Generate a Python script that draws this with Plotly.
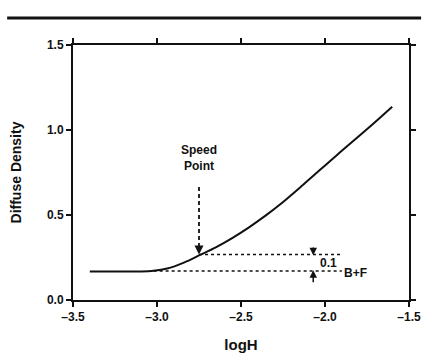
import plotly.graph_objects as go

# Characteristic curve
log_h = [-3.40, -3.25, -3.10, -3.02, -2.94, -2.84, -2.744, -2.65, -2.55, -2.45, -2.35, -2.27, -2.13, -1.93, -1.73, -1.60]
density = [0.168, 0.168, 0.168, 0.172, 0.185, 0.220, 0.265, 0.310, 0.366, 0.429, 0.499, 0.560, 0.678, 0.852, 1.022, 1.137]

base_fog = 0.17          # B+F level
speed_x = -2.75          # speed point log H
speed_y = 0.268          # B+F + 0.1
dash_top = 0.665
dotted_end = -1.90
dotted_start_low = -3.02
arrow_x = -2.07

x_ticks = [-3.5, -3.0, -2.5, -2.0, -1.5]
y_ticks = [0.0, 0.5, 1.0, 1.5]

FONT = "Liberation Sans"
BLACK = "#111111"

fig = go.Figure()

fig.add_trace(go.Scatter(x=log_h, y=density, mode="lines",
                         line=dict(color=BLACK, width=2, shape="spline", smoothing=1.0),
                         hoverinfo="skip", showlegend=False))

# dotted reference lines
fig.add_trace(go.Scatter(x=[speed_x, dotted_end], y=[speed_y, speed_y], mode="lines",
                         line=dict(color=BLACK, width=1.5, dash="dot"), showlegend=False))
fig.add_trace(go.Scatter(x=[dotted_start_low, dotted_end], y=[base_fog, base_fog], mode="lines",
                         line=dict(color=BLACK, width=1.5, dash="dot"), showlegend=False))
# dashed vertical pointer
fig.add_trace(go.Scatter(x=[speed_x, speed_x], y=[dash_top, speed_y + 0.04], mode="lines",
                         line=dict(color=BLACK, width=1.8, dash="4px,3px"), showlegend=False))

# arrowheads
fig.add_annotation(x=speed_x, y=speed_y, ax=speed_x, ay=speed_y + 0.05,
                   xref="x", yref="y", axref="x", ayref="y", text="", showarrow=True,
                   arrowhead=2, arrowsize=1.2, arrowwidth=1.5, arrowcolor=BLACK)
fig.add_annotation(x=arrow_x, y=speed_y - 0.005, ax=arrow_x, ay=0.318,
                   xref="x", yref="y", axref="x", ayref="y", text="", showarrow=True,
                   arrowhead=2, arrowsize=1, arrowwidth=1.5, arrowcolor=BLACK)
fig.add_annotation(x=arrow_x, y=base_fog + 0.005, ax=arrow_x, ay=0.095,
                   xref="x", yref="y", axref="x", ayref="y", text="", showarrow=True,
                   arrowhead=2, arrowsize=1, arrowwidth=1.5, arrowcolor=BLACK)

fig.add_annotation(x=speed_x, y=0.835, text="Speed<br>Point", showarrow=False,
                   font=dict(family=FONT, size=12, color=BLACK, weight="bold"),
                   xref="x", yref="y")
fig.add_annotation(x=-1.98, y=0.215, text="0.1", showarrow=False,
                   font=dict(family=FONT, size=12, color=BLACK, weight="bold"))
fig.add_annotation(x=-1.82, y=0.157, text="B+F", showarrow=False,
                   font=dict(family=FONT, size=12, color=BLACK, weight="bold"))

# top rule of the page
fig.add_shape(type="line", xref="paper", yref="paper", x0=-0.196, x1=1.036, y0=1.106, y1=1.106,
              line=dict(color=BLACK, width=3))

axis_common = dict(showgrid=False, zeroline=False, showline=True, linecolor=BLACK, linewidth=2,
                   ticks="outside", ticklen=5, tickwidth=1.5, tickcolor=BLACK, mirror="ticks",
                   automargin=False,
                   tickfont=dict(family=FONT, size=12, color=BLACK, weight="bold"))

fig.update_xaxes(range=[-3.5, -1.5], tickvals=x_ticks, ticktext=[f"{v:.1f}".replace("-", "\u2013") for v in x_ticks],
                 title=dict(text="logH", font=dict(family=FONT, size=15, color=BLACK, weight="bold"), standoff=16),
                 **axis_common)
fig.update_yaxes(range=[0, 1.5], tickvals=y_ticks, ticktext=[f"{v:.1f}" for v in y_ticks],
                 title=dict(text="Diffuse Density", font=dict(family=FONT, size=14, color=BLACK, weight="bold"), standoff=22),
                 **axis_common)

fig.update_layout(width=425, height=354, margin=dict(l=73, r=16, t=45, b=54),
                  plot_bgcolor="white", paper_bgcolor="white", showlegend=False)

fig.write_html("out.html")
